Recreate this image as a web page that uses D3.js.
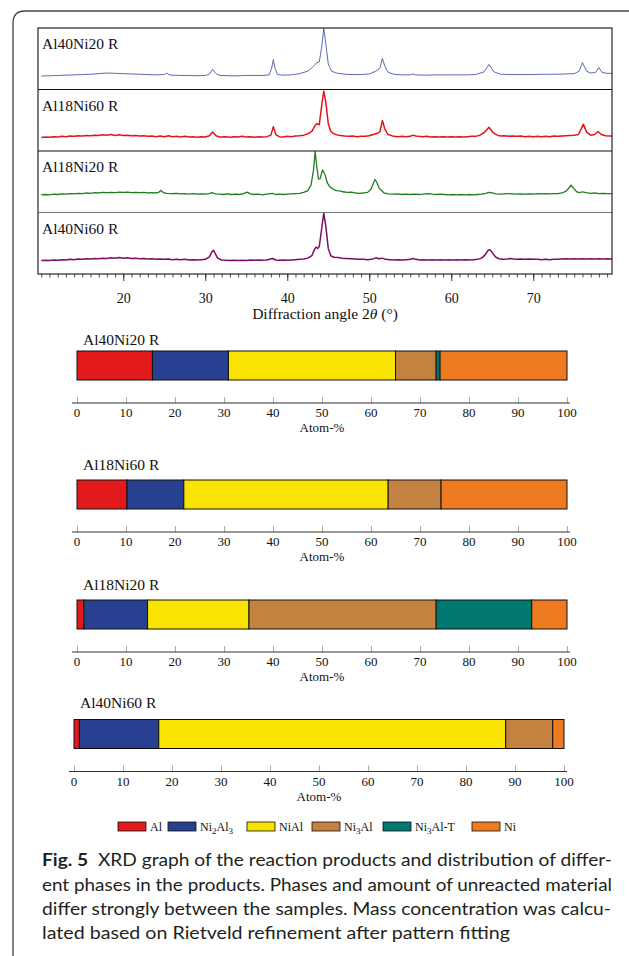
<!DOCTYPE html>
<html>
<head>
<meta charset="utf-8">
<script src="https://cdn.jsdelivr.net/npm/d3@7"></script>
<style>
  body { margin: 0; background: #fff; }
  svg { display: block; }
</style>
</head>
<body>
<script>
// XRD patterns, [2theta, relative intensity]
const al40ni20 = [[10,0.22],[11,0.225],[12,0.23],[13,0.235],[14,0.24],[15,0.245],[16,0.25],[17,0.26],[18,0.27],[19,0.265],[20,0.26],[21,0.255],[22,0.25],[23,0.245],[24,0.24],[25,0.245],[25.3,0.27],[25.6,0.24],[26,0.235],[27,0.23],[28,0.23],[29,0.225],[30,0.23],[30.5,0.25],[30.9,0.33],[31.3,0.26],[31.8,0.23],[33,0.225],[34,0.225],[35,0.23],[36,0.23],[37,0.23],[37.8,0.24],[38.1,0.35],[38.3,0.49],[38.5,0.35],[38.8,0.245],[39.5,0.235],[40.5,0.24],[41.5,0.26],[42.5,0.3],[43.2,0.38],[43.6,0.44],[43.9,0.45],[44.2,0.7],[44.45,1.0],[44.7,0.75],[45,0.42],[45.4,0.3],[46,0.27],[47,0.25],[48,0.245],[49,0.245],[50,0.255],[50.8,0.3],[51.3,0.35],[51.6,0.51],[51.9,0.38],[52.3,0.28],[53,0.25],[54,0.24],[55,0.24],[55.3,0.255],[55.6,0.24],[57,0.235],[58,0.24],[59,0.24],[60,0.24],[61,0.24],[62,0.24],[63,0.245],[64,0.29],[64.6,0.41],[65.2,0.29],[66,0.25],[67,0.245],[68,0.245],[69,0.245],[70,0.245],[71,0.25],[72,0.25],[73,0.25],[74,0.255],[75,0.26],[75.6,0.3],[76.0,0.44],[76.5,0.3],[77,0.27],[77.6,0.28],[78,0.36],[78.4,0.28],[79,0.265],[80,0.265]];

const al18ni60 = [[10,0.22],[10.5,0.23],[11,0.225],[11.5,0.235],[12,0.23],[12.5,0.24],[13,0.235],[13.5,0.245],[14,0.24],[14.5,0.25],[15,0.245],[15.5,0.255],[16,0.25],[16.5,0.26],[17,0.255],[17.5,0.265],[18,0.26],[18.5,0.27],[19,0.255],[19.5,0.265],[20,0.255],[20.5,0.26],[21,0.25],[21.5,0.255],[22,0.245],[22.5,0.25],[23,0.24],[23.5,0.245],[24,0.235],[24.5,0.245],[25,0.235],[25.5,0.25],[26,0.235],[26.5,0.24],[27,0.23],[27.5,0.24],[28,0.23],[28.5,0.235],[29,0.225],[29.5,0.235],[30,0.23],[30.5,0.25],[30.9,0.31],[31.3,0.25],[31.8,0.23],[32.5,0.235],[33,0.225],[33.5,0.235],[34,0.23],[34.5,0.24],[35,0.23],[35.5,0.235],[36,0.225],[36.5,0.235],[37,0.23],[37.5,0.235],[38,0.26],[38.3,0.40],[38.6,0.27],[39,0.235],[39.5,0.23],[40,0.24],[40.5,0.235],[41,0.245],[41.5,0.25],[42,0.26],[42.5,0.28],[43,0.32],[43.4,0.42],[43.6,0.45],[43.9,0.43],[44.2,0.75],[44.45,0.98],[44.7,0.8],[45,0.45],[45.3,0.32],[45.7,0.28],[46.2,0.26],[47,0.245],[47.5,0.24],[48,0.245],[48.5,0.235],[49,0.24],[49.5,0.24],[50,0.25],[50.5,0.27],[51,0.29],[51.3,0.32],[51.6,0.5],[51.9,0.36],[52.3,0.27],[53,0.24],[53.5,0.235],[54,0.24],[54.5,0.235],[55,0.24],[55.3,0.26],[55.7,0.245],[56,0.24],[56.5,0.235],[57,0.24],[57.5,0.23],[58,0.235],[58.5,0.23],[59,0.235],[59.5,0.23],[60,0.235],[60.5,0.23],[61,0.235],[61.5,0.23],[62,0.235],[62.5,0.24],[63,0.24],[63.5,0.26],[64,0.3],[64.6,0.39],[65.1,0.3],[65.6,0.26],[66,0.245],[66.5,0.25],[67,0.24],[67.5,0.245],[68,0.24],[68.5,0.245],[69,0.235],[69.5,0.24],[70,0.235],[70.5,0.24],[71,0.235],[71.5,0.24],[72,0.235],[72.5,0.245],[73,0.24],[73.5,0.245],[74,0.25],[74.5,0.255],[75,0.26],[75.5,0.27],[75.8,0.35],[76.1,0.44],[76.5,0.31],[77,0.26],[77.5,0.27],[77.9,0.32],[78.3,0.27],[78.8,0.25],[79.5,0.245],[80,0.24]];

const al18ni20 = [[10,0.29],[10.5,0.295],[11,0.29],[11.5,0.3],[12,0.295],[12.5,0.305],[13,0.3],[13.5,0.31],[14,0.305],[14.5,0.315],[15,0.31],[15.5,0.32],[16,0.315],[16.5,0.325],[17,0.32],[17.5,0.33],[18,0.325],[18.5,0.33],[19,0.325],[19.5,0.335],[20,0.33],[20.5,0.335],[21,0.325],[21.5,0.33],[22,0.325],[22.5,0.33],[23,0.32],[23.5,0.325],[24,0.32],[24.3,0.33],[24.6,0.36],[24.9,0.325],[25.3,0.315],[26,0.31],[26.5,0.315],[27,0.305],[27.5,0.31],[28,0.3],[28.5,0.31],[29,0.3],[29.5,0.305],[30,0.3],[30.5,0.31],[30.8,0.325],[31.2,0.305],[31.7,0.3],[32.2,0.295],[32.7,0.305],[33.2,0.295],[33.7,0.3],[34.2,0.295],[34.7,0.31],[35.1,0.335],[35.5,0.305],[36,0.295],[36.5,0.3],[37,0.29],[37.5,0.3],[38.2,0.315],[38.6,0.295],[39,0.3],[39.5,0.295],[40,0.3],[40.5,0.305],[41,0.31],[41.5,0.315],[42,0.33],[42.5,0.36],[42.9,0.45],[43.2,0.7],[43.4,1.0],[43.6,0.75],[43.8,0.55],[44.0,0.55],[44.3,0.7],[44.6,0.62],[44.9,0.48],[45.2,0.42],[45.6,0.38],[46,0.36],[46.4,0.355],[46.8,0.34],[47.3,0.33],[47.8,0.335],[48.3,0.32],[48.8,0.315],[49.3,0.32],[49.8,0.33],[50.2,0.38],[50.5,0.48],[50.7,0.54],[50.9,0.5],[51.2,0.4],[51.5,0.36],[51.8,0.32],[52.3,0.305],[53,0.3],[53.5,0.305],[54,0.295],[54.5,0.3],[55,0.295],[55.5,0.3],[56,0.295],[56.5,0.3],[57.2,0.31],[57.7,0.3],[58.2,0.295],[58.7,0.3],[59.2,0.295],[59.7,0.29],[60.2,0.295],[60.7,0.29],[61.2,0.295],[61.7,0.29],[62.2,0.295],[62.7,0.29],[63.2,0.295],[63.7,0.3],[64.2,0.315],[64.6,0.33],[65,0.32],[65.5,0.305],[66,0.3],[66.5,0.305],[67,0.31],[67.5,0.305],[68,0.3],[68.5,0.305],[69,0.3],[69.5,0.305],[70,0.3],[70.5,0.31],[71,0.305],[71.5,0.31],[72,0.305],[72.5,0.31],[73,0.31],[73.5,0.32],[74,0.35],[74.4,0.41],[74.6,0.45],[74.9,0.4],[75.3,0.34],[75.7,0.325],[76,0.34],[76.4,0.325],[77,0.315],[77.5,0.32],[78,0.31],[78.5,0.315],[79,0.31],[79.5,0.31],[80,0.31]];

const al40ni60 = [[10,0.22],[10.5,0.225],[11,0.22],[11.5,0.23],[12,0.225],[12.5,0.235],[13,0.23],[13.5,0.24],[14,0.235],[14.5,0.245],[15,0.24],[15.5,0.25],[16,0.245],[16.5,0.255],[17,0.25],[17.5,0.26],[18,0.255],[18.5,0.265],[19,0.26],[19.5,0.27],[20,0.26],[20.5,0.265],[21,0.255],[21.5,0.26],[22,0.25],[22.5,0.255],[23,0.245],[23.5,0.25],[24,0.24],[24.5,0.245],[25,0.24],[25.5,0.245],[26,0.235],[26.5,0.24],[27,0.235],[27.5,0.24],[28,0.23],[28.5,0.235],[29,0.23],[29.5,0.235],[30,0.24],[30.5,0.28],[30.8,0.36],[31,0.39],[31.2,0.34],[31.5,0.26],[32,0.23],[32.5,0.225],[33,0.22],[33.5,0.225],[34,0.22],[34.5,0.225],[35,0.22],[35.5,0.23],[36,0.225],[36.5,0.23],[37,0.225],[37.5,0.23],[38.2,0.255],[38.6,0.23],[39,0.225],[39.5,0.23],[40,0.225],[40.5,0.23],[41,0.235],[41.5,0.24],[42,0.245],[42.5,0.26],[43,0.3],[43.3,0.4],[43.5,0.44],[43.7,0.42],[43.9,0.45],[44.2,0.75],[44.45,1.0],[44.7,0.78],[45,0.42],[45.3,0.3],[45.7,0.275],[46.2,0.27],[46.7,0.26],[47.2,0.255],[47.8,0.25],[48.3,0.245],[48.8,0.24],[49.3,0.24],[49.8,0.235],[50.3,0.24],[50.8,0.265],[51.2,0.25],[51.6,0.26],[52,0.24],[52.5,0.235],[53,0.23],[53.5,0.235],[54,0.23],[54.5,0.235],[55,0.24],[55.3,0.255],[55.7,0.24],[56.2,0.23],[56.7,0.235],[57.2,0.23],[57.7,0.235],[58.2,0.23],[58.7,0.235],[59.2,0.23],[59.7,0.235],[60.2,0.23],[60.7,0.235],[61.2,0.23],[61.7,0.235],[62.2,0.23],[62.7,0.235],[63.2,0.24],[63.7,0.26],[64.1,0.31],[64.5,0.39],[64.7,0.4],[65,0.35],[65.4,0.28],[65.8,0.25],[66.3,0.24],[66.8,0.245],[67.2,0.255],[67.6,0.245],[68,0.24],[68.5,0.245],[69,0.24],[69.5,0.245],[70,0.24],[70.5,0.24],[71,0.235],[71.5,0.24],[72,0.235],[72.5,0.24],[73,0.24],[73.5,0.245],[74,0.25],[74.5,0.245],[75,0.25],[75.5,0.245],[76,0.25],[76.5,0.245],[77,0.25],[77.5,0.245],[78,0.25],[78.5,0.245],[79,0.25],[79.5,0.245],[80,0.25]];

const xrdSamples = ["Al40Ni20 R", "Al18Ni60 R", "Al18Ni20 R", "Al40Ni60 R"];
const xrdSeries = [al40ni20, al18ni60, al18ni20, al40ni60];
const xrdColors = ["#4b5aa9", "#e5141b", "#1f7d22", "#7b0c68"];
const xrdWidths = [0.9, 1.5, 1.3, 1.5];
const xrdTicks = [20, 30, 40, 50, 60, 70];

// phase distribution (Atom-%)
const phases = ["Al", "Ni2Al3", "NiAl", "Ni3Al", "Ni3Al-T", "Ni"];
const phaseColors = ["#e31a1c", "#27408f", "#f9e300", "#c3823f", "#00786f", "#ee7a22"];
const barSamples = ["Al40Ni20 R", "Al18Ni60 R", "Al18Ni20 R", "Al40Ni60 R"];
const barValues = [
  [15.4, 15.5, 34.1, 8.3, 0.8, 25.9],
  [10.2, 11.6, 41.7, 10.8, 0, 25.7],
  [1.4, 13.0, 20.7, 38.2, 19.5, 7.2],
  [1.1, 16.2, 70.8, 9.6, 0, 2.3]
];
const atomTicks = [0, 10, 20, 30, 40, 50, 60, 70, 80, 90, 100];

const captionLines = [
  "XRD graph of the reaction products and distribution of differ-",
  "ent phases in the products. Phases and amount of unreacted material",
  "differ strongly between the samples. Mass concentration was calcu-",
  "lated based on Rietveld refinement after pattern fitting"
];

const W = 629, H = 956;
const serif = "'Liberation Serif', 'DejaVu Serif', serif";

const svg = d3.select("body").append("svg")
  .attr("width", W).attr("height", H);

// rounded outer frame
svg.append("path")
  .attr("d", "M13,956 L13,23 Q13,11 25,11 L629,11")
  .attr("fill", "none").attr("stroke", "#444").attr("stroke-width", 1.3);

// ---- XRD panels ----
const frame = {left: 38, right: 612, top: 28, bottom: 274};
const panelH = (frame.bottom - frame.top) / 4;

const x = d3.scaleLinear().domain([9.6, 79.6]).range([frame.left, frame.right]);

svg.append("clipPath").attr("id", "xrdclip")
  .append("rect")
  .attr("x", frame.left).attr("y", frame.top - 2)
  .attr("width", frame.right - frame.left).attr("height", frame.bottom - frame.top + 2);

xrdSeries.forEach((data, i) => {
  const top = frame.top + i * panelH;
  const y = d3.scaleLinear().domain([0, 1]).range([top + panelH, top + 0.5]);
  const line = d3.line().x(d => x(d[0])).y(d => y(d[1]));
  svg.append("path")
    .datum(data)
    .attr("clip-path", "url(#xrdclip)")
    .attr("d", line)
    .attr("fill", "none")
    .attr("stroke", xrdColors[i])
    .attr("stroke-width", xrdWidths[i])
    .attr("stroke-linejoin", "round");

  svg.append("text")
    .attr("x", frame.left + 4).attr("y", top + 21)
    .attr("font-family", serif).attr("font-size", 15.5)
    .attr("fill", "#111")
    .text(xrdSamples[i]);
});

// panel separators
[1, 2, 3].forEach(k => {
  svg.append("line")
    .attr("x1", frame.left).attr("x2", frame.right)
    .attr("y1", frame.top + k * panelH).attr("y2", frame.top + k * panelH)
    .attr("stroke", k === 3 ? "#777" : "#111").attr("stroke-width", 1.1);
});
svg.append("rect")
  .attr("x", frame.left).attr("y", frame.top)
  .attr("width", frame.right - frame.left).attr("height", frame.bottom - frame.top)
  .attr("fill", "none").attr("stroke", "#111").attr("stroke-width", 1.1);

// bottom axis with minor ticks
const xAxisMinor = d3.axisBottom(x).ticks(70).tickSize(3.5).tickFormat("");
const xAxisMajor = d3.axisBottom(x).tickValues(xrdTicks).tickSize(7).tickFormat(d3.format("d"));

const gMinor = svg.append("g").attr("transform", `translate(0,${frame.bottom})`).call(xAxisMinor);
gMinor.select(".domain").remove();
gMinor.selectAll("line").attr("stroke", "#222").attr("stroke-width", 0.8);

const gMajor = svg.append("g").attr("transform", `translate(0,${frame.bottom})`).call(xAxisMajor);
gMajor.select(".domain").remove();
gMajor.selectAll("line").attr("stroke", "#222").attr("stroke-width", 0.9);
gMajor.selectAll("text")
  .attr("font-family", serif).attr("font-size", 14)
  .attr("fill", "#111").attr("dy", null).attr("y", 29);

const xl = svg.append("text")
  .attr("x", (frame.left + frame.right) / 2).attr("y", 319)
  .attr("text-anchor", "middle")
  .attr("font-family", serif).attr("font-size", 15.5).attr("fill", "#111");
xl.append("tspan").text("Diffraction angle 2");
xl.append("tspan").attr("font-style", "italic").text("θ");
xl.append("tspan").text(" (°)");

// ---- phase distribution bars ----
const barTops = [351, 480, 600, 719.5];
const barLabelY = [345, 470, 590, 708];
const barRanges = [[77, 567], [77, 567], [77, 567], [74, 564]];
const barH = 29;

barValues.forEach((vals, i) => {
  const bx = d3.scaleLinear().domain([0, 100]).range(barRanges[i]);
  const top = barTops[i];
  const stacked = d3.cumsum(vals);
  const segs = vals.map((v, j) => ({start: stacked[j] - v, end: stacked[j], color: phaseColors[j]}))
    .filter(s => s.end > s.start);

  svg.append("g").selectAll("rect")
    .data(segs).join("rect")
    .attr("x", d => bx(d.start))
    .attr("y", top)
    .attr("width", d => bx(d.end) - bx(d.start))
    .attr("height", barH)
    .attr("fill", d => d.color)
    .attr("stroke", "#111").attr("stroke-width", 1);

  svg.append("text")
    .attr("x", barRanges[i][0] + 6).attr("y", barLabelY[i])
    .attr("font-family", serif).attr("font-size", 15.5).attr("fill", "#111")
    .text(barSamples[i]);

  const axisY = top + barH + 23;
  const g = svg.append("g").attr("transform", `translate(0,${axisY})`)
    .call(d3.axisTop(bx).tickValues(atomTicks).tickSize(6).tickFormat(""));
  g.select(".domain").remove();
  g.selectAll("line").attr("stroke", "#aaa").attr("stroke-width", 1);

  svg.append("line")
    .attr("x1", barRanges[i][0] - 5).attr("x2", barRanges[i][1] + 3)
    .attr("y1", axisY).attr("y2", axisY)
    .attr("stroke", "#333").attr("stroke-width", 1.2);

  svg.append("g").selectAll("text")
    .data(atomTicks).join("text")
    .attr("x", d => bx(d)).attr("y", axisY + 14)
    .attr("text-anchor", "middle")
    .attr("font-family", serif).attr("font-size", 13).attr("fill", "#111")
    .text(d => d);

  svg.append("text")
    .attr("x", bx(50)).attr("y", axisY + 29)
    .attr("text-anchor", "middle")
    .attr("font-family", serif).attr("font-size", 13).attr("fill", "#111")
    .text("Atom-%");
});

// legend
const legendX = [118, 168, 247, 312, 383, 472];
const legendY = 822;
phases.forEach((p, j) => {
  svg.append("rect")
    .attr("x", legendX[j]).attr("y", legendY)
    .attr("width", 28).attr("height", 9)
    .attr("fill", phaseColors[j]).attr("stroke", "#111").attr("stroke-width", 0.8);
  const t = svg.append("text")
    .attr("x", legendX[j] + 32).attr("y", legendY + 9)
    .attr("font-family", serif).attr("font-size", 12).attr("fill", "#111");
  // digits are subscripts in the phase names
  let shift = 0;
  p.split(/(\d+)/).filter(s => s.length).forEach(part => {
    const sub = /^\d+$/.test(part);
    const target = sub ? 2.5 : 0;
    t.append("tspan")
      .attr("font-size", sub ? 9 : 12)
      .attr("dy", target - shift)
      .text(part);
    shift = target;
  });
});

// caption
const capBase = [866, 891, 915, 939];
const capWidth = [570, 570, 569, 468];
captionLines.forEach((line, k) => {
  const t = svg.append("text")
    .attr("x", 42).attr("y", capBase[k])
    .attr("font-family", "Lato, 'Open Sans', sans-serif")
    .attr("font-size", 16.5).attr("fill", "#231f20")
    .attr("textLength", capWidth[k]).attr("lengthAdjust", "spacingAndGlyphs");
  if (k === 0) {
    t.append("tspan").attr("font-weight", "bold").text("Fig. 5");
    t.append("tspan").text("\u00a0\u00a0" + line);
  } else {
    t.text(line);
  }
});
</script>
</body>
</html>
